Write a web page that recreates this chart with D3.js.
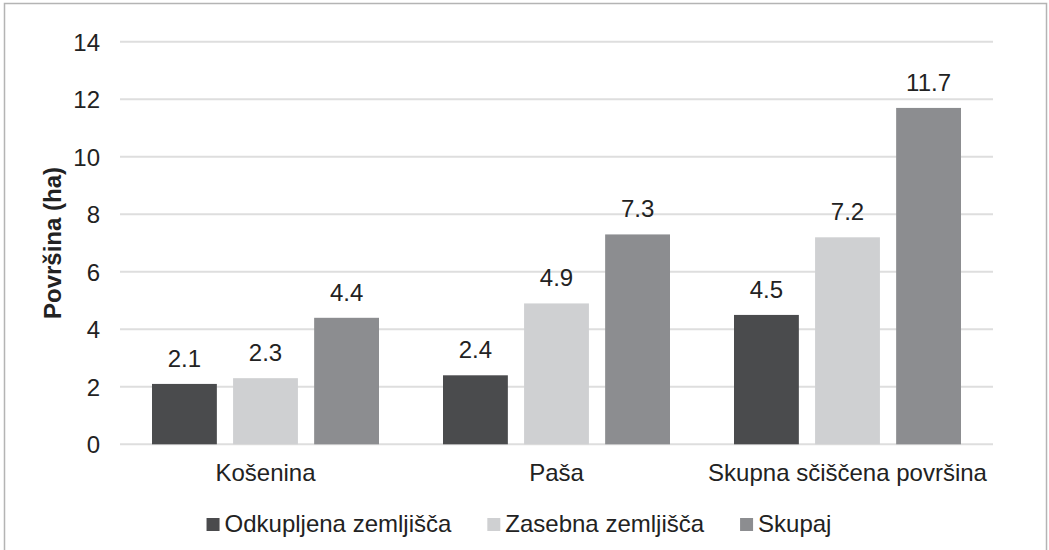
<!DOCTYPE html>
<head>
    <meta charset='utf-8'>
    <title>Površina</title>
    <script src='https://d3js.org/d3.v7.min.js'></script>
    <style>
        html, body {
            margin: 0px;
            padding: 0px;
            background: white;
        }
        svg {
            font-family: 'Liberation Sans', Arial, sans-serif;
        }
        text {
            fill: #222;
        }
    </style>
</head>
<body>
    <div id='chart'></div>

    <script>
        // data
        var categories = ['Košenina', 'Paša', 'Skupna sčiščena površina'];
        var seriesNames = ['Odkupljena zemljišča', 'Zasebna zemljišča', 'Skupaj'];
        var odkupljena = [2.1, 2.4, 4.5];
        var zasebna = [2.3, 4.9, 7.2];
        var skupaj = [4.4, 7.3, 11.7];
        var yTicks = [0, 2, 4, 6, 8, 10, 12, 14];
        var colours = ['#4a4b4d', '#cfd0d2', '#8c8d90'];

        var series = [odkupljena, zasebna, skupaj];
        var fs = 24;

        var width = 1049, height = 550;
        var svg = d3.select('#chart').append('svg')
            .attr('width', width)
            .attr('height', height);

        // outer frame
        svg.append('rect')
            .attr('x', 4.5)
            .attr('y', 3.5)
            .attr('width', 1042)
            .attr('height', 560)
            .attr('fill', 'none')
            .attr('stroke', '#b4b4b4')
            .attr('stroke-width', 1.5);

        var x0 = d3.scaleBand()
            .domain(categories)
            .range([120, 993]);

        var x1 = d3.scaleBand()
            .domain(d3.range(seriesNames.length))
            .range([32, x0.bandwidth() - 32])
            .paddingInner(0.2);

        var y = d3.scaleLinear()
            .domain([0, 14])
            .range([444.3, 41.8]);

        // grid lines
        svg.append('g')
            .selectAll('line')
            .data(yTicks)
            .enter()
            .append('line')
            .attr('x1', 120)
            .attr('x2', 993)
            .attr('y1', function(d) { return y(d); })
            .attr('y2', function(d) { return y(d); })
            .attr('stroke', '#dedede')
            .attr('stroke-width', 2);

        // y tick labels
        var yAxis = d3.axisLeft(y).tickValues(yTicks).tickSize(0).tickPadding(0);
        var yg = svg.append('g')
            .attr('transform', 'translate(100,0)')
            .call(yAxis);
        yg.select('.domain').remove();
        yg.selectAll('text')
            .attr('font-size', fs)
            .attr('font-family', "'Liberation Sans', Arial, sans-serif")
            .attr('fill', '#222')
            .attr('dy', '0.36em');

        // bars
        var groups = svg.append('g')
            .selectAll('g')
            .data(categories)
            .enter()
            .append('g')
            .attr('transform', function(d) { return 'translate(' + x0(d) + ',0)'; });

        groups.selectAll('rect')
            .data(function(d, i) {
                return series.map(function(s, k) { return {k: k, v: s[i]}; });
            })
            .enter()
            .append('rect')
            .attr('x', function(d) { return x1(d.k); })
            .attr('width', x1.bandwidth())
            .attr('y', function(d) { return y(d.v); })
            .attr('height', function(d) { return y(0) - y(d.v); })
            .attr('fill', function(d) { return colours[d.k]; });

        groups.selectAll('text')
            .data(function(d, i) {
                return series.map(function(s, k) { return {k: k, v: s[i]}; });
            })
            .enter()
            .append('text')
            .attr('x', function(d) { return x1(d.k) + x1.bandwidth() / 2; })
            .attr('y', function(d) { return y(d.v) - 17; })
            .attr('text-anchor', 'middle')
            .attr('font-size', fs)
            .text(function(d) { return d.v.toFixed(1); });

        // category labels
        svg.append('g')
            .selectAll('text')
            .data(categories)
            .enter()
            .append('text')
            .attr('x', function(d) { return x0(d) + x0.bandwidth() / 2; })
            .attr('y', 481)
            .attr('text-anchor', 'middle')
            .attr('font-size', fs)
            .text(function(d) { return d; });

        // y axis title
        svg.append('text')
            .attr('transform', 'translate(61,243) rotate(-90)')
            .attr('text-anchor', 'middle')
            .attr('font-size', fs)
            .attr('font-weight', 'bold')
            .text('Površina (ha)');

        // legend
        var legend = svg.append('g');
        var items = legend.selectAll('g')
            .data(seriesNames)
            .enter()
            .append('g');
        items.append('rect')
            .attr('width', 13)
            .attr('height', 13)
            .attr('y', 518)
            .attr('fill', function(d, i) { return colours[i]; });
        items.append('text')
            .attr('x', 18)
            .attr('y', 532)
            .attr('font-size', fs)
            .text(function(d) { return d; });

        var widths = [];
        items.each(function() {
            widths.push(18 + d3.select(this).select('text').node().getComputedTextLength());
        });
        var total = d3.sum(widths) + 36 * (widths.length - 1);
        var start = 519 - total / 2;
        items.attr('transform', function(d, i) {
            var off = start;
            for (var j = 0; j < i; j++) off += widths[j] + 36;
            return 'translate(' + off + ',0)';
        });
    </script>
</body>
